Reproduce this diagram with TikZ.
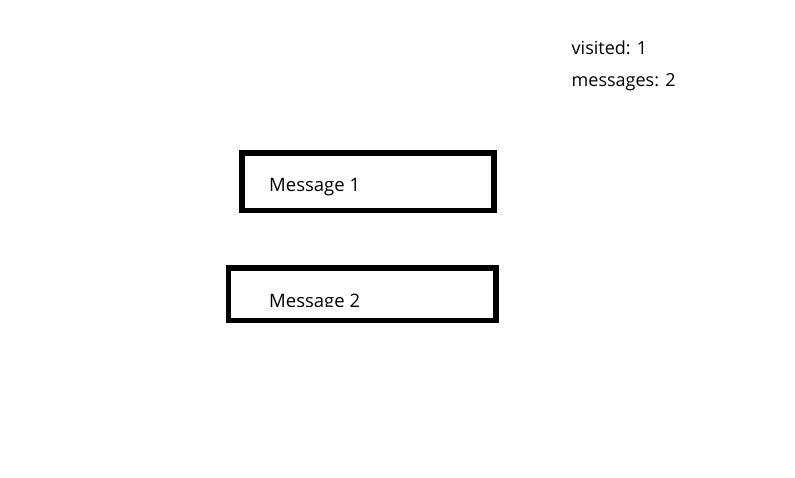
\documentclass[tikz,border=0pt]{standalone}
\usepackage{fontspec}
\setmainfont{Open Sans}
\begin{document}
\begin{tikzpicture}[x=1pt,y=-1pt,
  box/.style={draw=black,line width=5.6pt,inner sep=0pt,rectangle},
  lbl/.style={anchor=base west,inner sep=0pt,font=\fontsize{18.5}{20}\selectfont},
  info/.style={anchor=base west,inner sep=0pt,font=\fontsize{18}{20}\selectfont}]
\useasboundingbox[fill=white] (0,0) rectangle (795,477);
\node[box,minimum width=251.6pt,minimum height=57.7pt] (box1) at (368,181.65) {};
\node[box,minimum width=267.3pt,minimum height=52.7pt] (box2) at (362.15,294.15) {};
\node[lbl] (msg1) at (269,191.7) {Message 1};
\begin{scope}
  \clip (0,0) rectangle (795,306);
  \node[lbl] (msg2) at (269,307) {Message 2};
\end{scope}
\node[info] (visited) at (571.5,54.5) {visited: 1};
\node[info] (messages) at (571.5,86.5) {messages: 2};
\end{tikzpicture}
\end{document}
